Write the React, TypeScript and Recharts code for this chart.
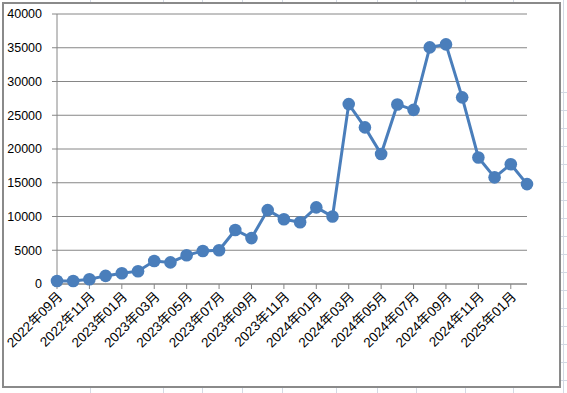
import React from "react";
import { CartesianGrid, Line, LineChart, XAxis, YAxis } from "recharts";

// monthly values, 2022-09 .. 2025-02
const months = [
  "2022年09月", "2022年10月", "2022年11月", "2022年12月",
  "2023年01月", "2023年02月", "2023年03月", "2023年04月", "2023年05月", "2023年06月",
  "2023年07月", "2023年08月", "2023年09月", "2023年10月", "2023年11月", "2023年12月",
  "2024年01月", "2024年02月", "2024年03月", "2024年04月", "2024年05月", "2024年06月",
  "2024年07月", "2024年08月", "2024年09月", "2024年10月", "2024年11月", "2024年12月",
  "2025年01月", "2025年02月",
];
const values = [
  450, 450, 700, 1200, 1600, 1900, 3400, 3200, 4250, 4900,
  5000, 8000, 6800, 10950, 9600, 9150, 11350, 10000, 26650, 23200,
  19250, 26600, 25800, 35050, 35500, 27650, 18750, 15800, 17750, 14800,
];
const yTicks = [0, 5000, 10000, 15000, 20000, 25000, 30000, 35000, 40000];

// sheet cell lines behind the chart object
const sheetCols = [90, 163, 202, 242, 282, 336, 377, 416, 465, 513, 563];
const sheetRows = [92, 110, 128, 146, 164, 182, 200, 218, 236, 254, 272, 290, 308, 326, 344, 362, 380];

const data = months.map((m, i) => ({ month: m, value: values[i] }));

const FONT = "'Liberation Sans', Arial, 'Noto Sans CJK SC', sans-serif";
const GRID = "#868686";
const BLUE = "#4a7ebb";

function MonthTick({ x, y, payload }: { x?: number; y?: number; payload?: { value: string } }) {
  return (
    <g transform={`translate(${(x ?? 0) + 3},${(y ?? 0) + 3})`}>
      <text
        x={0}
        y={0}
        dy="0.35em"
        textAnchor="end"
        transform="rotate(-45)"
        fontSize={13.5}
        fontFamily={FONT}
        fill="#000"
      >
        {payload?.value}
      </text>
    </g>
  );
}

export default function App() {
  return (
    <div style={{ position: "relative", width: 567, height: 393, background: "#fff", overflow: "hidden" }}>
      <style>{"body{margin:0}"}</style>
      {sheetCols.map((x) => (
        <div key={"c" + x} style={{ position: "absolute", left: x, top: 0, width: 1, height: 393, background: "#d3d9e4" }} />
      ))}
      {sheetRows.map((y) => (
        <div key={"r" + y} style={{ position: "absolute", left: 561, top: y, width: 6, height: 1, background: "#d3d9e4" }} />
      ))}
      <div
        style={{
          position: "absolute",
          left: 2,
          top: 2,
          width: 559,
          height: 386,
          boxSizing: "border-box",
          border: "2px solid #8a8a8a",
          background: "#fff",
        }}
      />
      <div style={{ position: "absolute", left: 0, top: 0 }}>
        <LineChart width={567} height={393} data={data} margin={{ top: 14, right: 40, bottom: 0, left: 0 }}>
          <CartesianGrid vertical={false} stroke={GRID} strokeWidth={1} />
          <XAxis
            dataKey="month"
            interval={1}
            padding={{ left: 0, right: 0 }}
            height={109}
            tickSize={5}
            tickMargin={2}
            stroke={GRID}
            tick={<MonthTick />}
          />
          <YAxis
            width={57}
            domain={[0, 40000]}
            ticks={yTicks}
            interval={0}
            tickSize={5}
            tickMargin={10}
            stroke={GRID}
            tick={{ fill: "#000", fontSize: 12.5, fontFamily: FONT }}
          />
          <Line
            type="linear"
            dataKey="value"
            stroke={BLUE}
            strokeWidth={3}
            dot={{ r: 6.3, fill: BLUE, stroke: BLUE, strokeWidth: 0 }}
            activeDot={false}
            isAnimationActive={false}
          />
        </LineChart>
      </div>
    </div>
  );
}
